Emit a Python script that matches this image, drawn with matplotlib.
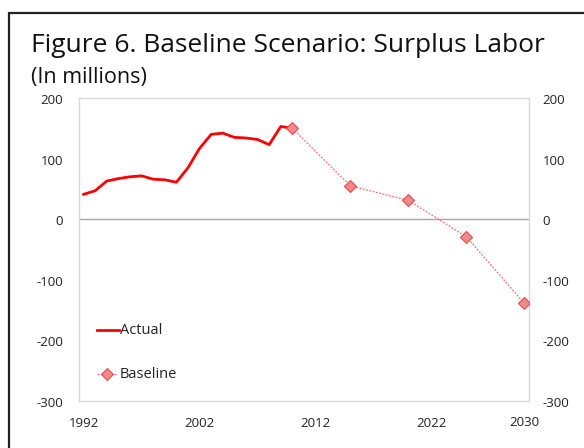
import matplotlib.pyplot as plt
from matplotlib.lines import Line2D
from matplotlib.patches import Rectangle

plt.rcParams['font.family'] = ['Open Sans', 'DejaVu Sans']

# data (millions)
actual_years = list(range(1992, 2011))
actual_vals = [41, 47, 63, 67, 70, 71.5, 66, 65, 61, 85, 117, 140, 142,
               135, 134, 131.5, 123, 153, 150]
base_years = [2010, 2015, 2020, 2025, 2030]
base_vals = [150, 55, 31, -29, -139]
xtick_years = [1992, 2002, 2012, 2022, 2030]
yticks = [-300, -200, -100, 0, 100, 200]

fig = plt.figure(figsize=(5.84, 4.48), dpi=100)
W, H = 584, 448
ax = fig.add_axes([79 / W, 1 - 401 / H, (529 - 79) / W, (401 - 98) / H])

# outer frame of the exhibit
fig.patches.append(Rectangle((9 / W, -0.1), 1.2, 1 - 13 / H + 0.1,
                             transform=fig.transFigure, fill=False,
                             edgecolor='#222222', linewidth=1.6))

ax.axhline(0, color='#a6a6a6', linewidth=1.0, zorder=1)
ax.plot(base_years, base_vals, color='#ff6f6f', linestyle=(0, (1.5, 1.2)),
        linewidth=0.9, marker='D', markersize=6.5,
        markerfacecolor='#ef8a8a', markeredgecolor='#e84a4a',
        markeredgewidth=0.8, zorder=3)
ax.plot(actual_years, actual_vals, color='#ff0000', linewidth=2.0,
        solid_joinstyle='round', zorder=2)

ax.set_xlim(1991.6, 2030.4)
ax.set_ylim(-300, 200)
for s in ax.spines.values():
    s.set_color('#d9d9d9')
    s.set_linewidth(1.0)
ax.tick_params(length=0)
ax.set_xticks([])
ax.set_yticks([])

# y labels on both sides (shifted a touch below the gridline like the original)
for v in yticks:
    yv = v - 4
    ax.text(-0.035, yv, str(v), transform=ax.get_yaxis_transform(),
            ha='right', va='center', fontsize=9.5, color='#222222')
    ax.text(1.03, yv, str(v), transform=ax.get_yaxis_transform(),
            ha='left', va='center', fontsize=9.5, color='#222222')

# x labels
for yr in xtick_years:
    dy = 0.07 if yr == 2030 else 0.074
    ax.text(yr, -dy, str(yr), transform=ax.get_xaxis_transform(),
            ha='center', va='center', fontsize=9.5, color='#222222')

# legend
ax.add_line(Line2D([97 / W, 119 / W], [1 - 330 / H] * 2, transform=fig.transFigure,
                   color='#ff0000', linewidth=2.0))
fig.text(120 / W, 1 - 330 / H, 'Actual', ha='left', va='center', fontsize=10.5,
         color='#222222')
ax.add_line(Line2D([97 / W, 117 / W], [1 - 374 / H] * 2, transform=fig.transFigure,
                   color='#ff6f6f', linestyle=(0, (1.5, 1.2)), linewidth=0.9))
ax.add_line(Line2D([107 / W], [1 - 374 / H], transform=fig.transFigure,
                   marker='D', markersize=6.5, markerfacecolor='#ef8a8a',
                   markeredgecolor='#e84a4a', markeredgewidth=0.8, linestyle='none'))
fig.text(120 / W, 1 - 374 / H, 'Baseline', ha='left', va='center', fontsize=10.5,
         color='#222222')

fig.text(31 / W, 1 - 46 / H, 'Figure 6. Baseline Scenario: Surplus Labor',
         ha='left', va='center', fontsize=19, color='#111111')
fig.text(31 / W, 1 - 77 / H, '(In millions)', ha='left', va='center',
         fontsize=15.5, color='#111111')

fig.savefig('out.png', dpi=100)
